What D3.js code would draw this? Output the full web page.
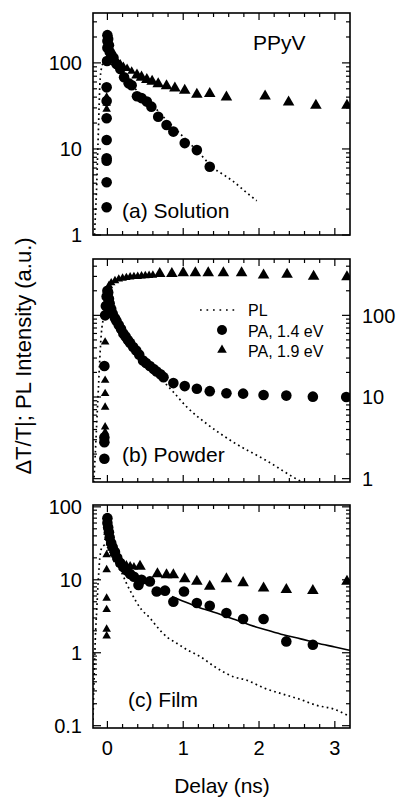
<!DOCTYPE html>
<html>
<head>
<meta charset="utf-8">
<script src="https://cdn.jsdelivr.net/npm/d3@7"></script>
<style>
  body { margin: 0; background: #fff; }
  svg text { font-family: "Liberation Sans", Arial, Helvetica, sans-serif; fill: #000; }
</style>
</head>
<body>
<div id="chart"></div>
<script>
// ---- data: [delay (ns), signal (a.u.)] ----

// (a) Solution
const solutionPL = [[-0.17,1.0],[-0.155,2],[-0.14,4],[-0.13,8],[-0.12,15],[-0.11,30],[-0.1,55],[-0.08,85],[-0.05,100],[0,100],
  [0.15,80],[0.3,58],[0.45,42],[0.6,32],[0.75,23],[0.9,17],[1.05,12.5],[1.2,9.2],[1.4,6.0],[1.55,4.9],[1.66,4.2],[1.8,3.3],[1.97,2.5]];
const solutionPA14 = [[-0.01,2.1],[-0.01,4.1],[-0.01,7.3],[-0.01,7.8],[-0.01,12.7],[-0.01,22.7],[-0.01,36],[-0.01,52],
  [-0.005,105],[0,150],[0,180],[0,210],[0.01,190],[0.02,160],[0.03,135],[0.05,125],[0.08,115],[0.12,97],[0.17,85],
  [0.22,68],[0.28,58],[0.32,55],[0.39,41],[0.45,39],[0.52,35.5],[0.58,31],[0.67,23.7],[0.78,19],[0.87,15.9],
  [1.02,11.7],[1.18,9.7],[1.35,6.2]];
const solutionPA19Early = [[-0.01,29],[-0.01,34],[-0.01,40],[0.01,150],[0.03,135],[0.05,125],[0.07,118],[0.1,110],
  [0.13,103],[0.17,97],[0.21,91],[0.26,86],[0.32,80]];
const solutionPA19 = [[0.39,72],[0.45,68],[0.52,64],[0.59,61],[0.67,57],[0.78,54],[0.89,51],[1.02,48],[1.18,43],
  [1.35,44],[1.57,40],[2.08,41],[2.39,35],[2.75,32],[3.16,32]];

// (b) Powder
const powderPL = [[-0.18,0.9],[-0.16,2],[-0.14,5],[-0.12,12],[-0.1,30],[-0.08,60],[-0.05,90],[0,100],[0.2,58],
  [0.4,34],[0.6,21],[0.74,15.5],[0.87,11.5],[1.05,7.5],[1.31,4.7],[1.66,2.8],[2.1,1.66],[2.54,0.94],[2.7,0.8]];
const powderPA14 = [[-0.04,1.75],[-0.04,2.8],[-0.04,3.2],[-0.04,24],[-0.03,100],[-0.02,130],[-0.01,170],[0,200],
  [0.01,190],[0.02,160],[0.03,140],[0.05,120],[0.07,105],[0.1,92],[0.12,85],[0.15,76],[0.18,68],[0.21,60],[0.24,55],
  [0.27,50],[0.3,46],[0.34,41],[0.38,37],[0.42,33],[0.47,28],[0.51,26],[0.56,24],[0.61,22],[0.65,20.5],[0.7,19],
  [0.74,17.5],[0.87,14.8],[1.02,13.6],[1.18,12.6],[1.35,11.8],[1.57,11.1],[1.79,11],[2.06,10.6],[2.36,10.4],
  [2.71,10.1],[3.15,10]];
const powderPA19Early = [[-0.03,3.7],[-0.03,4.3],[-0.03,7.5],[-0.03,11],[-0.03,16],[-0.03,47],[-0.02,100],[-0.01,150],
  [0,200],[0.02,230],[0.05,250],[0.1,265],[0.15,278],[0.2,285],[0.25,290],[0.3,295],[0.35,298],[0.4,300],[0.45,303],
  [0.5,305],[0.55,308],[0.6,310]];
const powderPA19 = [[0.69,325],[0.85,325],[1.0,330],[1.16,330],[1.33,330],[1.53,330],[1.77,330],[2.06,310],[2.37,318],
  [2.72,300],[3.16,295]];

// (c) Film
const filmPL = [[-0.19,0.12],[-0.18,0.3],[-0.17,0.7],[-0.16,1.5],[-0.14,4],[-0.12,10],[-0.1,20],[-0.07,28],[-0.03,30],
  [0,28],[0.05,22],[0.1,17],[0.18,13],[0.25,9],[0.32,6.5],[0.38,5],[0.45,3.9],[0.56,3.0],[0.65,2.3],[0.72,1.9],
  [0.8,1.6],[0.89,1.4],[1.05,1.1],[1.22,0.89],[1.44,0.62],[1.66,0.47],[1.84,0.42],[2.06,0.33],[2.32,0.27],
  [2.54,0.23],[2.76,0.19],[2.98,0.17],[3.16,0.14]];
const filmPA14 = [[0,70],[0,60],[0.01,52],[0.02,45],[0.03,38],[0.05,32],[0.07,28],[0.1,24],[0.13,20],[0.17,17],
  [0.21,15],[0.25,13.5],[0.3,12],[0.35,11],[0.41,8.5],[0.45,10],[0.56,9.5],[0.65,6.9],[0.76,7.1],[0.87,5.0],
  [1.01,6.9],[1.18,4.8],[1.35,4.4],[1.57,3.5],[1.79,2.9],[2.06,2.9],[2.36,1.43],[2.71,1.29]];
const filmPA19Early = [[-0.01,1.7],[-0.01,2.1],[-0.01,3.9],[-0.01,5.6],[-0.01,13.7],[-0.01,22],[0,66],[0,55],[0,45],
  [0.01,38],[0.03,32],[0.05,27],[0.08,23],[0.12,20],[0.16,18],[0.2,17],[0.25,16],[0.3,15.5],[0.35,15]];
const filmPA19 = [[0.43,15.2],[0.66,12],[0.78,11.7],[0.87,11.7],[1.02,10.3],[1.18,9.5],[1.35,8.1],[1.57,10.3],
  [1.79,9.1],[2.06,7.7],[2.36,7.3],[2.71,7.1],[3.16,9.5]];
const filmFit = [[0.85,5.9],[0.96,5.3],[1.2,4.2],[1.44,3.5],[1.66,2.9],[1.88,2.4],[2.1,2.05],[2.32,1.76],[2.55,1.55],
  [2.76,1.36],[3.0,1.2],[3.2,1.08]];

const xTickLabels = [0, 1, 2, 3];
const legendLabels = ["PL", "PA, 1.4 eV", "PA, 1.9 eV"];

// ---- layout ----
const width = 398, height = 799;
const svg = d3.select("#chart").append("svg")
  .attr("width", width)
  .attr("height", height);

const x = d3.scaleLinear().domain([-0.19, 3.2]).range([93, 350]);

const panels = [
  {key: "a", y: d3.scaleLog().domain([1, 380]).range([235, 13]), labels: [1, 10, 100], side: "left",
   pl: solutionPL, pa14: solutionPA14, pa19Early: solutionPA19Early, pa19: solutionPA19,
   title: "(a) Solution", tx: 122, ty: 218},
  {key: "b", y: d3.scaleLog().domain([0.91, 490]).range([482, 259]), labels: [1, 10, 100], side: "right",
   pl: powderPL, pa14: powderPA14, pa19Early: powderPA19Early, pa19: powderPA19,
   title: "(b) Powder", tx: 122, ty: 462},
  {key: "c", y: d3.scaleLog().domain([0.093, 106]).range([728, 505]), labels: [0.1, 1, 10, 100], side: "left",
   pl: filmPL, pa14: filmPA14, pa19Early: filmPA19Early, pa19: filmPA19, fit: filmFit,
   title: "(c) Film", tx: 128, ty: 707}
];

const tri = d3.symbol().type(d3.symbolTriangle);

function drawFrame(g, y, side, labels) {
  const [x0, x1] = x.range();
  const [yb, yt] = y.range();

  // x ticks every 0.2 ns, major at integers, top and bottom, pointing in
  d3.range(0, 17).map(i => i * 0.2).filter(v => v < 3.19).forEach(v => {
    const len = (Math.abs(v - Math.round(v)) < 1e-6) ? 7 : 4;
    const px = x(v);
    g.append("line").attr("x1", px).attr("x2", px).attr("y1", yb).attr("y2", yb - len);
    g.append("line").attr("x1", px).attr("x2", px).attr("y1", yt).attr("y2", yt + len);
  });

  // log y ticks left and right
  y.ticks().forEach(v => {
    const major = Math.abs(Math.log10(v) - Math.round(Math.log10(v))) < 1e-6;
    const len = major ? 8 : 4;
    const py = y(v);
    g.append("line").attr("x1", x0).attr("x2", x0 + len).attr("y1", py).attr("y2", py);
    g.append("line").attr("x1", x1).attr("x2", x1 - len).attr("y1", py).attr("y2", py);
  });
  g.selectAll("line").attr("stroke", "#000").attr("stroke-width", 1.2);

  g.append("rect")
    .attr("x", x0).attr("y", yt)
    .attr("width", x1 - x0).attr("height", yb - yt)
    .attr("fill", "none").attr("stroke", "#000").attr("stroke-width", 1.6);

  g.selectAll("text.ylab")
    .data(labels)
    .join("text")
      .attr("class", "ylab")
      .attr("x", side === "left" ? x0 - 11 : x1 + 12)
      .attr("y", d => y(d))
      .attr("dy", "0.36em")
      .attr("text-anchor", side === "left" ? "end" : "start")
      .attr("font-size", 20)
      .text(d => d);
}

panels.forEach(p => {
  const g = svg.append("g");
  const [yb, yt] = p.y.range();

  g.append("clipPath").attr("id", "clip_" + p.key)
    .append("rect")
      .attr("x", x.range()[0]).attr("y", yt)
      .attr("width", x.range()[1] - x.range()[0]).attr("height", yb - yt);

  const line = d3.line()
    .x(d => x(d[0]))
    .y(d => p.y(d[1]))
    .curve(d3.curveMonotoneX);

  const plot = g.append("g").attr("clip-path", `url(#clip_${p.key})`);

  plot.append("path")
    .datum(p.pl)
    .attr("d", line)
    .attr("fill", "none")
    .attr("stroke", "#000")
    .attr("stroke-width", 1.7)
    .attr("stroke-dasharray", "1.7 3.3");

  if (p.fit) {
    plot.append("path")
      .datum(p.fit)
      .attr("d", line)
      .attr("fill", "none")
      .attr("stroke", "#000")
      .attr("stroke-width", 1.6);
  }

  plot.append("g")
    .selectAll("circle")
    .data(p.pa14)
    .join("circle")
      .attr("cx", d => x(d[0]))
      .attr("cy", d => p.y(d[1]))
      .attr("r", 5.3)
      .attr("fill", "#000");

  plot.append("g")
    .selectAll("path")
    .data(p.pa19Early)
    .join("path")
      .attr("transform", d => `translate(${x(d[0])},${p.y(d[1])})`)
      .attr("d", tri.size(32)())
      .attr("fill", "#000");

  plot.append("g")
    .selectAll("path")
    .data(p.pa19)
    .join("path")
      .attr("transform", d => `translate(${x(d[0])},${p.y(d[1])})`)
      .attr("d", tri.size(58)())
      .attr("fill", "#000");

  drawFrame(g.append("g"), p.y, p.side, p.labels);

  g.append("text")
    .attr("x", p.tx).attr("y", p.ty)
    .attr("font-size", 21)
    .text(p.title);
});

// sample name in panel (a)
svg.append("text")
  .attr("x", 253).attr("y", 50)
  .attr("font-size", 21)
  .text("PPyV");

// legend in panel (b)
const leg = svg.append("g");
leg.append("line")
  .attr("x1", 200).attr("x2", 238).attr("y1", 310).attr("y2", 310)
  .attr("stroke", "#000").attr("stroke-width", 1.7).attr("stroke-dasharray", "1.7 4.8");
leg.append("circle").attr("cx", 222).attr("cy", 330).attr("r", 5).attr("fill", "#000");
leg.append("path").attr("transform", "translate(222,350)").attr("d", tri.size(40)()).attr("fill", "#000");
leg.selectAll("text")
  .data(legendLabels)
  .join("text")
    .attr("x", 248)
    .attr("y", (d, i) => 316 + i * 20.5)
    .attr("font-size", 16)
    .text(d => d);

// x tick labels under (c)
const yc = panels[2].y.range()[0];
svg.append("g")
  .selectAll("text")
  .data(xTickLabels)
  .join("text")
    .attr("x", d => x(d))
    .attr("y", yc + 27)
    .attr("text-anchor", "middle")
    .attr("font-size", 20)
    .text(d => d);

svg.append("text")
  .attr("x", 222).attr("y", 793)
  .attr("text-anchor", "middle")
  .attr("font-size", 21)
  .text("Delay (ns)");

svg.append("text")
  .attr("transform", "translate(31,356) rotate(-90)")
  .attr("text-anchor", "middle")
  .attr("font-size", 22)
  .text("ΔT/T|; PL Intensity (a.u.)");
</script>
</body>
</html>
